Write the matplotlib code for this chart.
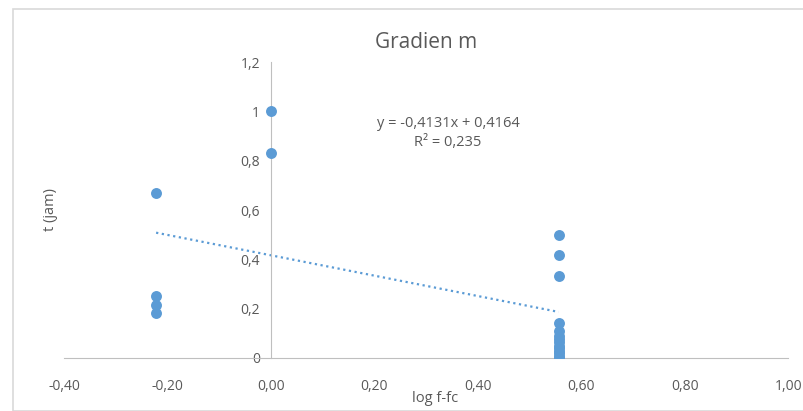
import matplotlib.pyplot as plt
from matplotlib.patches import Rectangle
from matplotlib.ticker import FuncFormatter

plt.rcParams['font.family'] = ['Open Sans', 'DejaVu Sans']

# data
log_x = [-0.222, -0.222, -0.222, -0.222,
         0.0, 0.0,
         0.556, 0.556, 0.556, 0.556, 0.556, 0.556, 0.556, 0.556,
         0.556, 0.556, 0.556, 0.556, 0.556, 0.556]
t_jam = [0.667, 0.25, 0.214, 0.182,
         1.0, 0.833,
         0.5, 0.417, 0.333, 0.143, 0.111, 0.091, 0.077, 0.063,
         0.05, 0.04, 0.03, 0.02, 0.01, 0.0]

# trendline from the chart label
slope = -0.4131
intercept = 0.4164
r2 = 0.235

blue = '#5B9BD5'
gray = '#595959'
axis_gray = '#BFBFBF'

fig = plt.figure(figsize=(8.04, 4.11), dpi=100)
ax = fig.add_axes([0.0796, 0.129, 0.901, 0.72])

ax.scatter(log_x, t_jam, s=62, color=blue, zorder=3, linewidths=0)

x_min, x_max = min(log_x), max(log_x)
ax.plot([x_min, x_max], [slope * x_min + intercept, slope * x_max + intercept],
        linestyle=(0, (1, 1.6)), color=blue, linewidth=1.6, zorder=2)

ax.set_xlim(-0.4, 1.0)
ax.set_ylim(0, 1.2)

# Excel-style axes crossing at zero
ax.spines['left'].set_position(('data', 0))
ax.spines['bottom'].set_position(('data', 0))
ax.spines['right'].set_visible(False)
ax.spines['top'].set_visible(False)
ax.spines['left'].set_color(axis_gray)
ax.spines['bottom'].set_color(axis_gray)

ax.set_xticks([-0.4, -0.2, 0.0, 0.2, 0.4, 0.6, 0.8, 1.0])
ax.set_yticks([0, 0.2, 0.4, 0.6, 0.8, 1.0, 1.2])
ax.xaxis.set_major_formatter(FuncFormatter(lambda v, p: f'{v:.2f}'.replace('.', ',')))
ax.yaxis.set_major_formatter(FuncFormatter(lambda v, p: f'{v:g}'.replace('.', ',')))
ax.tick_params(axis='both', length=0, labelsize=10, labelcolor=gray)
ax.tick_params(axis='x', pad=15)
ax.tick_params(axis='y', pad=8)

ax.set_title('Gradien m', fontsize=15, color=gray, pad=10)
fig.text(0.541, 0.022, 'log f-fc', fontsize=10.5, color=gray, ha='center')
fig.text(0.063, 0.49, 't (jam)', fontsize=10.5, color=gray, rotation=90,
         ha='center', va='center')

ax.text(0.342, 0.949, f'y = {slope}x + {intercept}'.replace('.', ','),
        fontsize=10.5, color=gray, ha='center', va='center')
ax.text(0.342, 0.872, f'R² = {r2}'.replace('.', ','),
        fontsize=10.5, color=gray, ha='center', va='center')

fig.patches.append(Rectangle((13 / 804, 0), 1.0, 1 - 9 / 411, transform=fig.transFigure,
                             fill=False, edgecolor='#D9D9D9', linewidth=1.2))

fig.savefig('out.png', dpi=100)
